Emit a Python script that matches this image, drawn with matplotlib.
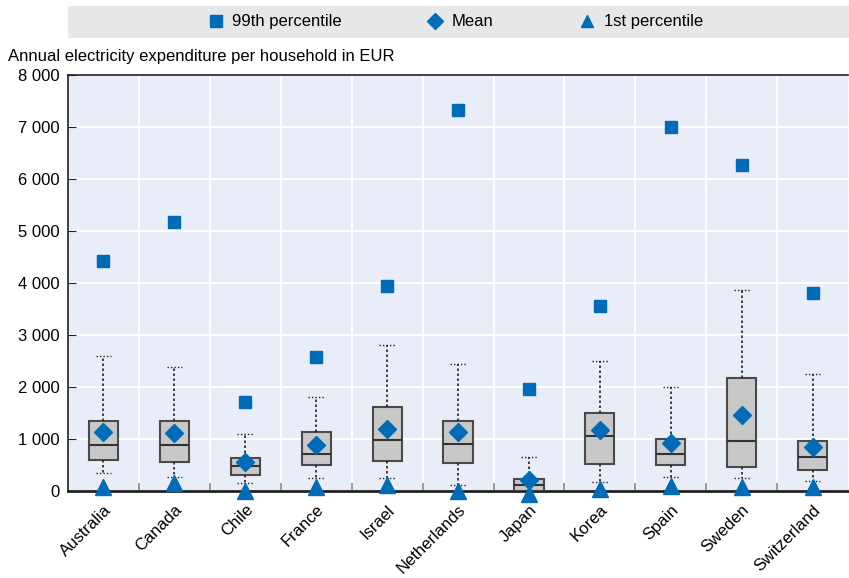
import matplotlib
matplotlib.use("Agg")
import matplotlib.pyplot as plt
from matplotlib.lines import Line2D
import numpy as np

plt.rcParams['font.family'] = ['Liberation Sans Narrow', 'Liberation Sans', 'DejaVu Sans']

countries = ["Australia", "Canada", "Chile", "France", "Israel", "Netherlands",
             "Japan", "Korea", "Spain", "Sweden", "Switzerland"]
p99 = [4420, 5170, 1710, 2575, 3940, 7330, 1960, 3560, 7000, 6270, 3810]
mean = [1135, 1120, 555, 880, 1190, 1130, 210, 1170, 930, 1460, 850]
p1 = [80, 150, 0, 80, 110, 0, -60, 45, 95, 80, 70]
q1 = [600, 560, 315, 505, 583, 545, 0, 513, 506, 460, 398]
med = [890, 890, 480, 710, 980, 900, 110, 1058, 705, 967, 660]
q3 = [1350, 1350, 630, 1130, 1610, 1345, 240, 1505, 1006, 2167, 967]
whislo = [345, 275, 160, 255, 255, 120, 0, 180, 262, 243, 185]
whishi = [2600, 2380, 1090, 1810, 2810, 2450, 650, 2505, 2005, 3870, 2245]

blue = "#006bb6"
bg = "#e9edf7"

fig = plt.figure(figsize=(8.49, 5.78), dpi=100)
ax = fig.add_axes([0.080, 0.1505, 0.919, 0.7195])
ax.set_facecolor(bg)

x = np.arange(len(countries))
stats = []
for i in range(len(countries)):
    stats.append(dict(med=med[i], q1=q1[i], q3=q3[i], whislo=whislo[i], whishi=whishi[i], fliers=[]))

ax.bxp(stats, positions=x, widths=0.41, patch_artist=True, showfliers=False,
       boxprops=dict(facecolor="#c8c8c8", edgecolor="#4a4a4a", linewidth=1.5),
       medianprops=dict(color="#333333", linewidth=1.5),
       whiskerprops=dict(color="#222222", linestyle=(0, (1.5, 1.5)), linewidth=1.2),
       capprops=dict(color="#222222", linestyle=(0, (1, 1.5)), linewidth=1),
       capwidths=0.22, zorder=3)

ax.plot(x, p99, linestyle="none", marker="s", markersize=8.5, color=blue, zorder=5, clip_on=False)
ax.plot(x, mean, linestyle="none", marker="D", markersize=9.5, color=blue, zorder=5, clip_on=False)
ax.plot(x, p1, linestyle="none", marker="^", markersize=11, color=blue, zorder=5, clip_on=False)

ax.set_xlim(-0.5, len(countries) - 0.5)
ax.set_ylim(0, 8000)
yt = np.arange(0, 8001, 1000)
ax.set_yticks(yt)
ax.set_yticklabels([f"{v:,}".replace(",", " ") for v in yt], fontsize=12)
ax.set_xticks(x)
ax.set_xticklabels(countries, rotation=45, ha="right", rotation_mode="anchor", fontsize=12)
ax.tick_params(axis="x", length=0, pad=8)
ax.tick_params(axis="y", direction="in", length=6, color="#222222", pad=6)
ax.set_xticks(x[:-1] + 0.5, minor=True)
ax.tick_params(axis="x", which="minor", direction="in", length=6, color="#888888", width=1.2)

ax.grid(axis="y", color="white", linewidth=1.5, zorder=0)
ax.grid(axis="x", which="minor", color="white", linewidth=1.5, zorder=0)
ax.set_axisbelow(True)
for s in ["left", "top"]:
    ax.spines[s].set_color("#222222")
    ax.spines[s].set_linewidth(1.2)
ax.spines["right"].set_visible(False)
ax.spines["bottom"].set_color("#222222")
ax.spines["bottom"].set_linewidth(2)

fig.text(0.009, 0.902, "Annual electricity expenditure per household in EUR", fontsize=12, va="center")

# legend band
band = plt.Rectangle((0.080, 0.934), 0.920, 0.055, transform=fig.transFigure,
                     facecolor="#e6e7e9", edgecolor="none", zorder=0)
fig.patches.append(band)
handles = [Line2D([], [], linestyle="none", marker="s", markersize=8, color=blue),
           Line2D([], [], linestyle="none", marker="D", markersize=8, color=blue),
           Line2D([], [], linestyle="none", marker="^", markersize=9, color=blue)]
fig.legend(handles, ["99th percentile", "Mean", "1st percentile"], loc="center",
           bbox_to_anchor=(0.535, 0.962), ncol=3, frameon=False, fontsize=12,
           handletextpad=0.4, columnspacing=5, handlelength=1.2)

fig.savefig("out.png", dpi=100)
